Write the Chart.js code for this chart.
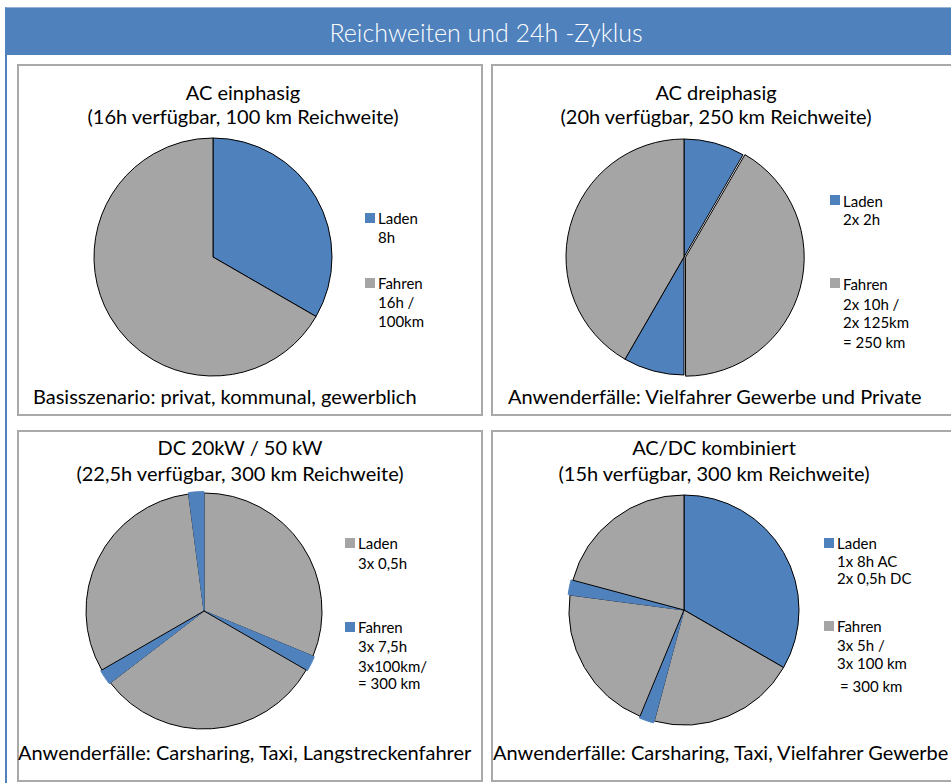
<!DOCTYPE html>
<html>
<head>
<meta charset="utf-8">
<script src="https://cdn.jsdelivr.net/npm/chart.js@4/dist/chart.umd.min.js"></script>
<style>
  html, body { margin: 0; padding: 0; background: #fff; }
  body { width: 951px; height: 783px; position: relative; overflow: hidden; font-family: Lato, "Open Sans", sans-serif; color: #000; }
  .abs { position: absolute; white-space: nowrap; }
  .frame { position: absolute; left: 5px; top: 7px; width: 960px; height: 800px; border-left: 2px solid #4F81BD; border-top: 1px solid #95B3D7; }
  .titlebar { position: absolute; left: 6px; top: 8px; width: 960px; height: 47px; background: #4F81BD; }
  .panel { position: absolute; border: 2px solid #A9A9A9; box-sizing: border-box; }
  .sq { position: absolute; width: 10px; height: 10px; }
  canvas { position: absolute; }
</style>
</head>
<body>
<div class="frame"></div>
<div class="titlebar"></div>
<div id="root"></div>
<script>
// ---------- DATA ----------
const mainTitle = 'Reichweiten und 24h -Zyklus';

const titles1 = ['AC einphasig', '(16h verfügbar, 100 km Reichweite)'];
const footer1 = 'Basisszenario: privat, kommunal, gewerblich';
const labels1 = ['Laden', 'Fahren'];
const values1 = [8, 16];
const legend1 = [['Laden', '8h'], ['Fahren', '16h /', '100km']];

const titles2 = ['AC dreiphasig', '(20h verfügbar, 250 km Reichweite)'];
const footer2 = 'Anwenderfälle: Vielfahrer Gewerbe und Private';
const labels2 = ['Laden', 'Fahren', 'Laden', 'Fahren'];
const values2 = [2, 10, 2, 10];
const legend2 = [['Laden', '2x 2h'], ['Fahren', '2x 10h /', '2x 125km', '= 250 km']];

const titles3 = ['DC 20kW / 50 kW', '(22,5h verfügbar, 300 km Reichweite)'];
const footer3 = 'Anwenderfälle: Carsharing, Taxi, Langstreckenfahrer';
const labels3 = ['Fahren', 'Laden', 'Fahren', 'Laden', 'Fahren', 'Laden'];
const values3 = [7.5, 0.5, 7.5, 0.5, 7.5, 0.5];
const legend3 = [['Laden', '3x 0,5h'], ['Fahren', '3x 7,5h', '3x100km/', '= 300 km']];

const titles4 = ['AC/DC kombiniert', '(15h verfügbar, 300 km Reichweite)'];
const footer4 = 'Anwenderfälle: Carsharing, Taxi, Vielfahrer Gewerbe';
const labels4 = ['Laden AC', 'Fahren', 'Laden DC', 'Fahren', 'Laden DC', 'Fahren'];
const values4 = [8, 5, 0.5, 5, 0.5, 5];
const legend4 = [['Laden', '1x 8h AC', '2x 0,5h DC'], ['Fahren', '3x 5h /', '3x 100 km', '= 300 km']];

// ---------- STYLE / LAYOUT ----------
const BLUE = '#4F81BD', GRAY = '#A5A5A5';
const TFS = 20;   // panel title / footer font size
const LFS = 15;   // legend font size
const root = document.getElementById('root');

function txt(str, x, y, size, opts = {}) {
  const d = document.createElement('div');
  d.className = 'abs';
  d.textContent = str;
  d.style.fontSize = size + 'px';
  d.style.lineHeight = '1';
  d.style.left = x + 'px';
  d.style.top = y + 'px';
  d.style.transform = opts.center ? 'translate(-50%,-50%)' : 'translateY(-50%)';
  if (opts.color) d.style.color = opts.color;
  if (opts.weight) d.style.fontWeight = opts.weight;
  root.appendChild(d);
  return d;
}
function panel(x, y, w, h) {
  const d = document.createElement('div');
  d.className = 'panel';
  Object.assign(d.style, { left: x + 'px', top: y + 'px', width: w + 'px', height: h + 'px' });
  root.appendChild(d);
}
function legendBlock(x, y, color, lines, lineYs, indent) {
  const s = document.createElement('div');
  s.className = 'sq';
  s.style.left = x + 'px';
  s.style.top = (y - 5) + 'px';
  s.style.background = color;
  root.appendChild(s);
  lines.forEach((ln, i) => txt(ln, x + 13 + (indent && indent[i] ? indent[i] : 0), lineYs[i], LFS));
}
function pie(cx, cy, r, labels, values, colors, borders, offsets) {
  const size = 2 * r + 30;
  const c = document.createElement('canvas');
  c.width = size; c.height = size;
  c.style.left = (cx - size / 2) + 'px';
  c.style.top = (cy - size / 2) + 'px';
  root.appendChild(c);
  new Chart(c, {
    type: 'pie',
    data: { labels, datasets: [{ data: values, backgroundColor: colors, borderColor: borders, borderWidth: 1, offset: offsets, radius: r }] },
    options: {
      responsive: false, animation: false,
      plugins: { legend: { display: false }, tooltip: { enabled: false } },
      layout: { padding: 0 }
    }
  });
}

txt(mainTitle, 486, 32, 25, { center: true, color: '#fff', weight: 300 });

panel(17, 64, 466, 352);
panel(491, 64, 480, 352);
panel(17, 430, 466, 352);
panel(491, 430, 480, 352);

// Panel 1
txt(titles1[0], 243, 92, TFS, { center: true });
txt(titles1[1], 243, 116, TFS, { center: true });
txt(footer1, 33, 396, TFS);
pie(213, 257, 119, labels1, values1, [BLUE, GRAY], ['#000', '#000'], [0, 0]);
legendBlock(365, 218, BLUE, legend1[0], [218, 237]);
legendBlock(365, 283, GRAY, legend1[1], [283, 302, 321]);

// Panel 2
txt(titles2[0], 716, 92, TFS, { center: true });
txt(titles2[1], 716, 116, TFS, { center: true });
txt(footer2, 508, 396, TFS);
pie(684, 257, 118, labels2, values2, [BLUE, GRAY, BLUE, GRAY], ['#000', '#000', '#000', '#000'], [0, 6, 0, 0]);
legendBlock(830, 200, BLUE, legend2[0], [201, 219]);
legendBlock(830, 283, GRAY, legend2[1], [284, 304, 322, 342]);

// Panel 3
txt(titles3[0], 240, 447, TFS, { center: true });
txt(titles3[1], 240, 473, TFS, { center: true });
txt(footer3, 18, 752, TFS);
pie(204, 611, 118, labels3, values3, [GRAY, BLUE, GRAY, BLUE, GRAY, BLUE], ['#000', BLUE, '#000', BLUE, '#000', BLUE], [0, 3, 0, 3, 0, 3]);
legendBlock(345, 543, GRAY, legend3[0], [543, 563]);
legendBlock(345, 627, BLUE, legend3[1], [627, 646, 666, 683]);

// Panel 4
txt(titles4[0], 714, 447, TFS, { center: true });
txt(titles4[1], 714, 473, TFS, { center: true });
txt(footer4, 493, 752, TFS);
pie(684, 610, 115, labels4, values4, [BLUE, GRAY, BLUE, GRAY, BLUE, GRAY], ['#000', '#000', BLUE, '#000', BLUE, '#000'], [0, 0, 4, 0, 4, 0]);
legendBlock(824, 543, BLUE, legend4[0], [543, 561, 578]);
legendBlock(824, 626, GRAY, legend4[1], [626, 645, 663, 686], [0, 0, 0, 3]);
</script>
</body>
</html>
